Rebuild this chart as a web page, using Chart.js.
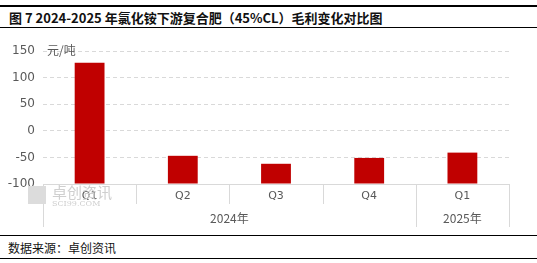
<!DOCTYPE html>
<html>
<head>
<meta charset="utf-8">
<script src="https://cdn.jsdelivr.net/npm/chart.js@4"></script>
<style>
  html, body { margin: 0; padding: 0; background: #fff; }
  #wrap { position: relative; width: 537px; height: 263px; overflow: hidden; font-family: "Noto Sans CJK SC", sans-serif; }
  .rule { position: absolute; left: 0; width: 537px; background: #000; }
  #title { position: absolute; left: 9px; top: 8px; font-size: 13px; font-weight: bold; color: #111; white-space: nowrap; }
  #source { position: absolute; left: 8px; top: 239px; font-size: 12px; color: #111; }
  #unit { position: absolute; left: 47px; top: 41px; font-size: 12px; color: #595959; }
  #chart-box { position: absolute; left: 0; top: 30px; width: 537px; height: 200px; }
  .wm { position: absolute; color: #cfcfcf; white-space: nowrap; }
</style>
</head>
<body>
<div id="wrap">
  <div class="rule" style="top:5px;height:2px"></div>
  <div id="title">图 7 2024-2025 年氯化铵下游复合肥（45%CL）毛利变化对比图</div>
  <div class="rule" style="top:27px;height:1px"></div>
  <div id="chart-box"><canvas id="chart" width="537" height="200"></canvas></div>
  <div id="unit">元/吨</div>
  <div class="wm" style="left:28px;top:186px;width:18px;height:18px;background:#dcdcdc"></div>
  <div class="wm" style="left:52px;top:181px;font-size:15px">卓创资讯</div>
  <div class="wm" style="left:52px;top:199px;font-size:8px;font-family:'DejaVu Serif',serif">SCI99.COM</div>
  <div class="rule" style="top:235px;height:1px"></div>
  <div id="source">数据来源：卓创资讯</div>
  <div class="rule" style="top:258px;height:1px"></div>
</div>
<script>
const quarters = ['Q1', 'Q2', 'Q3', 'Q4', 'Q1'];
const margins = [128, -47, -62, -51, -41];
const yearLabels = ['2024年', '2025年'];
const yearSpans = [4, 1];
const yTicks = { min: -100, max: 150, step: 50 };

// 分组标签和分隔线
const groupAxis = {
  id: 'groupAxis',
  afterDraw(chart) {
    const x = chart.scales.x;
    const ctx = chart.ctx;
    const bottom = chart.chartArea.bottom;
    const half = (x.getPixelForValue(1) - x.getPixelForValue(0)) / 2;
    const edge = i => x.getPixelForValue(i) - half;
    ctx.save();
    ctx.strokeStyle = '#d9d9d9';
    ctx.lineWidth = 1;
    const groupEdges = [0];
    yearSpans.forEach((s, i) => groupEdges.push(groupEdges[i] + s));
    for (let i = 0; i <= quarters.length; i++) {
      const px = Math.round(edge(i)) + 0.5;
      const len = groupEdges.includes(i) ? 43 : 20;
      ctx.beginPath();
      ctx.moveTo(px, bottom);
      ctx.lineTo(px, bottom + len);
      ctx.stroke();
    }
    ctx.fillStyle = '#595959';
    ctx.font = '12px "Noto Sans CJK SC", sans-serif';
    ctx.textAlign = 'center';
    ctx.textBaseline = 'middle';
    yearLabels.forEach((lab, i) => {
      const cx = (edge(groupEdges[i]) + edge(groupEdges[i + 1])) / 2;
      ctx.fillText(lab, cx, bottom + 34);
    });
    ctx.restore();
  }
};

new Chart(document.getElementById('chart'), {
  type: 'bar',
  data: {
    labels: quarters,
    datasets: [{
      data: margins,
      base: yTicks.min,
      backgroundColor: '#C00000',
      borderWidth: 0,
      categoryPercentage: 1,
      barPercentage: 0.32
    }]
  },
  options: {
    responsive: false,
    animation: false,
    layout: { padding: { top: 21, right: 28, left: 0, bottom: 0 } },
    plugins: { legend: { display: false }, tooltip: { enabled: false } },
    scales: {
      x: {
        grid: { display: false, drawTicks: false },
        border: { color: '#d9d9d9' },
        ticks: { color: '#595959', font: { size: 11, family: 'DejaVu Sans' }, padding: 6 },
        afterFit: s => { s.height = 46; }
      },
      y: {
        min: yTicks.min,
        max: yTicks.max,
        ticks: { stepSize: yTicks.step, color: '#595959', font: { size: 12, family: 'DejaVu Sans' }, padding: 8 },
        grid: { color: '#d9d9d9', drawTicks: false },
        border: { display: false, dash: [4, 3] },
        afterFit: s => { s.width = 43; }
      }
    }
  },
  plugins: [groupAxis]
});
</script>
</body>
</html>
